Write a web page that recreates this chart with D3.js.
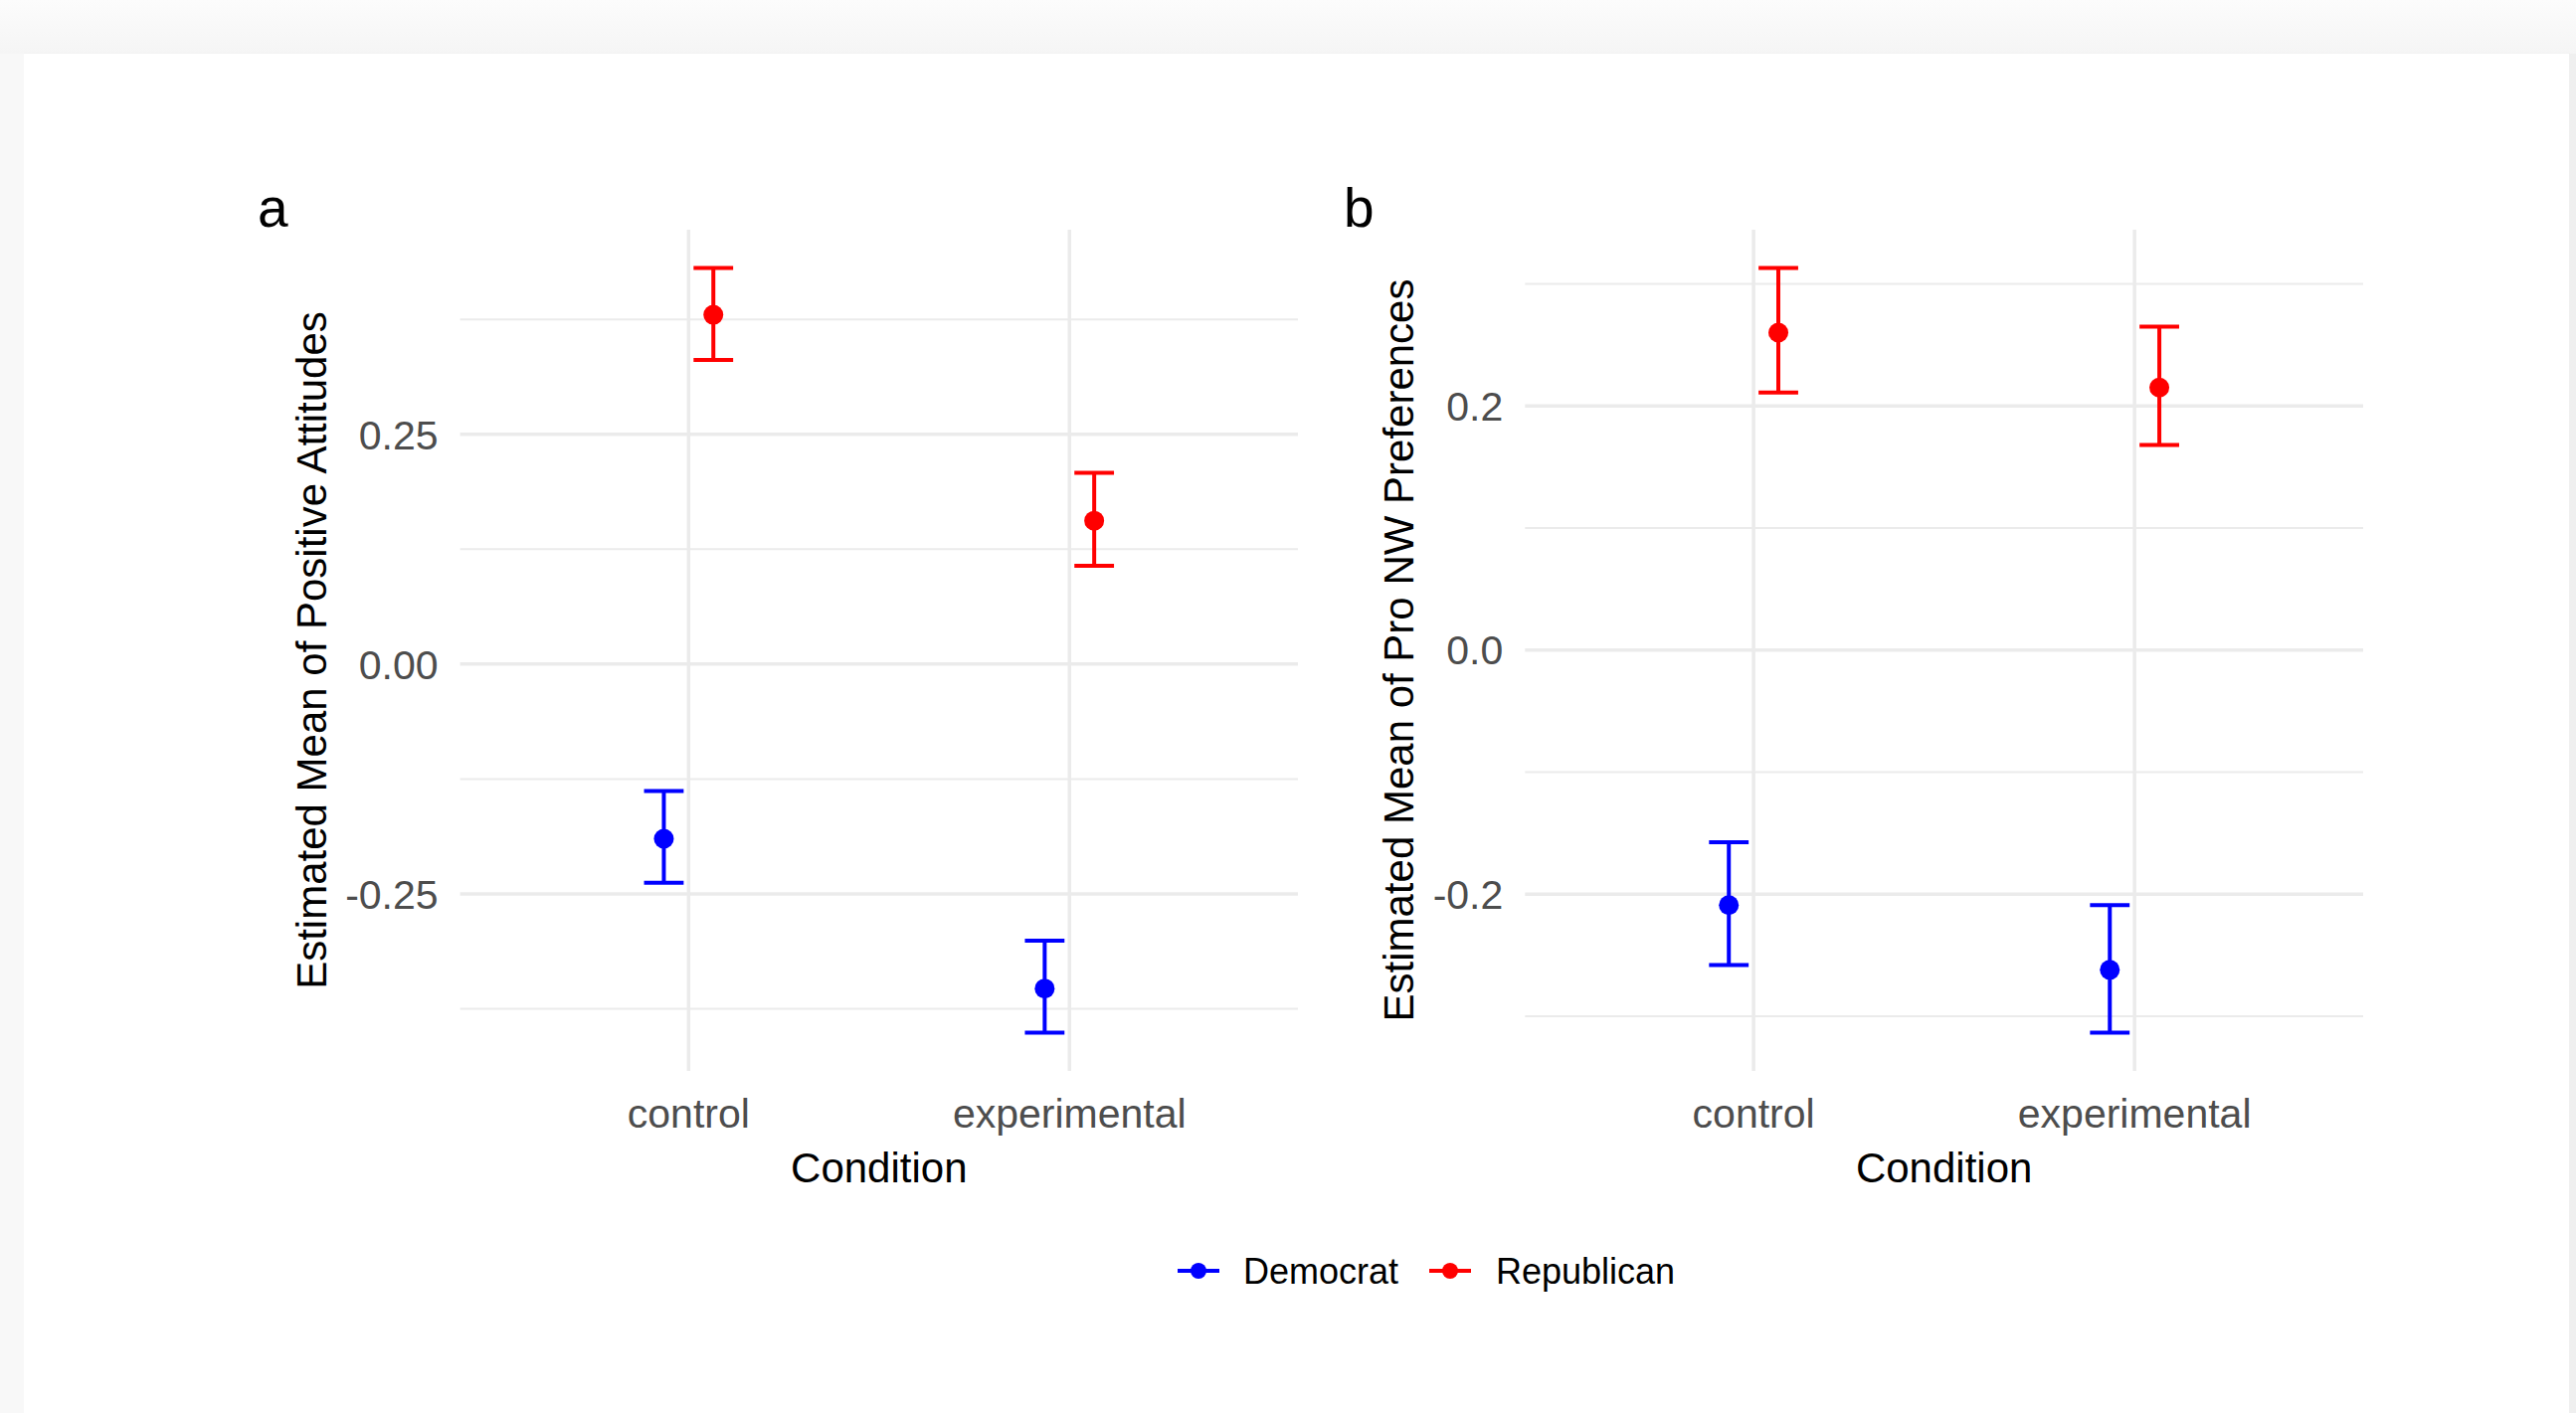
<!DOCTYPE html>
<html>
<head>
<meta charset="utf-8">
<script src="https://cdn.jsdelivr.net/npm/d3@7"></script>
<style>
  html, body { margin: 0; padding: 0; background: #f7f7f7; }
  svg { display: block; }
  text { font-family: "Liberation Sans", Arial, sans-serif; }
</style>
</head>
<body>
<svg id="chart" width="2590" height="1421"></svg>
<script>
// ---------------- DATA ----------------
const categories = ["control", "experimental"];
const parties = ["Democrat", "Republican"];
const partyColors = ["#0000ff", "#ff0000"];

// Panel a: Estimated Mean of Positive Attitudes
const aDemMean = [-0.190, -0.353];
const aDemLo   = [-0.238, -0.401];
const aDemHi   = [-0.138, -0.301];
const aRepMean = [0.380, 0.156];
const aRepLo   = [0.331, 0.107];
const aRepHi   = [0.431, 0.208];

// Panel b: Estimated Mean of Pro NW Preferences
const bDemMean = [-0.209, -0.262];
const bDemLo   = [-0.258, -0.3135];
const bDemHi   = [-0.1575, -0.209];
const bRepMean = [0.260, 0.215];
const bRepLo   = [0.211, 0.168];
const bRepHi   = [0.313, 0.265];

const aMajorTicks = [-0.25, 0, 0.25];
const aTickLabels = ["-0.25", "0.00", "0.25"];
const aMinorTicks = [-0.375, -0.125, 0.125, 0.375];
const bMajorTicks = [-0.2, 0, 0.2];
const bTickLabels = ["-0.2", "0.0", "0.2"];
const bMinorTicks = [-0.3, -0.1, 0.1, 0.3];

const aTitle = "Estimated Mean of Positive Attitudes";
const bTitle = "Estimated Mean of Pro NW Preferences";
const xTitle = "Condition";

// ---------------- DRAW ----------------
const svg = d3.select("#chart");
const W = 2590, H = 1421;

// page frame
const defs = svg.append("defs");
const g1 = defs.append("linearGradient").attr("id", "topband").attr("x1", 0).attr("y1", 0).attr("x2", 0).attr("y2", 1);
g1.append("stop").attr("offset", "0%").attr("stop-color", "#fcfcfc");
g1.append("stop").attr("offset", "100%").attr("stop-color", "#f5f5f5");
svg.append("rect").attr("x", 0).attr("y", 0).attr("width", W).attr("height", H).attr("fill", "#f8f8f8");
svg.append("rect").attr("x", 0).attr("y", 0).attr("width", W).attr("height", 54).attr("fill", "url(#topband)");
svg.append("rect").attr("x", 2583).attr("y", 54).attr("width", 7).attr("height", H - 54).attr("fill", "#efefef");
svg.append("rect").attr("x", 24).attr("y", 53).attr("width", 2560).attr("height", 1).attr("fill", "#f2f2f2");
svg.append("rect").attr("x", 24).attr("y", 54).attr("width", 2559).attr("height", H - 54).attr("fill", "#ffffff");

const panelTop = 231, panelBottom = 1077;
const dodgeWidth = 0.26, capWidth = 0.104;
const gridColor = "#ebebeb";

function expandDomain(lo, hi) {
  const mn = d3.min(lo), mx = d3.max(hi);
  const pad = (mx - mn) * 0.05;
  return [mn - pad, mx + pad];
}

function drawPanel(cfg) {
  const x = d3.scalePoint().domain(categories).range([cfg.left, cfg.right]).padding(0.6);
  const step = x.step();
  const allLo = cfg.series.flatMap(s => s.lo);
  const allHi = cfg.series.flatMap(s => s.hi);
  const y = d3.scaleLinear().domain(expandDomain(allLo, allHi)).range([panelBottom, panelTop]);
  const g = svg.append("g");

  // minor grid
  g.selectAll(".minor").data(cfg.minor).enter().append("line")
    .attr("x1", cfg.left).attr("x2", cfg.right)
    .attr("y1", d => y(d)).attr("y2", d => y(d))
    .attr("stroke", gridColor).attr("stroke-width", 2);
  // major grid
  g.selectAll(".major").data(cfg.major).enter().append("line")
    .attr("x1", cfg.left).attr("x2", cfg.right)
    .attr("y1", d => y(d)).attr("y2", d => y(d))
    .attr("stroke", gridColor).attr("stroke-width", 3.5);
  // vertical grid
  g.selectAll(".vgrid").data(categories).enter().append("line")
    .attr("x1", d => x(d)).attr("x2", d => x(d))
    .attr("y1", panelTop).attr("y2", panelBottom)
    .attr("stroke", gridColor).attr("stroke-width", 3.5);

  // y tick labels
  g.selectAll(".ylab").data(cfg.major).enter().append("text")
    .attr("x", cfg.left - 22).attr("y", d => y(d)).attr("dy", "0.36em")
    .attr("text-anchor", "end").attr("font-size", 41).attr("fill", "#4d4d4d")
    .text((d, i) => cfg.labels[i]);
  // x tick labels
  g.selectAll(".xlab").data(categories).enter().append("text")
    .attr("x", d => x(d)).attr("y", 1134)
    .attr("text-anchor", "middle").attr("font-size", 41).attr("fill", "#4d4d4d")
    .text(d => d);
  // x title
  g.append("text").attr("x", (cfg.left + cfg.right) / 2).attr("y", 1189)
    .attr("text-anchor", "middle").attr("font-size", 42).attr("fill", "#000")
    .text(xTitle);
  // y title
  g.append("text")
    .attr("transform", `translate(${cfg.titleX},${(panelTop + panelBottom) / 2}) rotate(-90)`)
    .attr("text-anchor", "middle").attr("font-size", 42).attr("fill", "#000")
    .text(cfg.title);
  // tag
  g.append("text").attr("x", cfg.tagX).attr("y", 228)
    .attr("font-size", 55).attr("fill", "#000").text(cfg.tag);

  // series
  cfg.series.forEach((s, si) => {
    const off = (si === 0 ? -1 : 1) * dodgeWidth / 4 * step;
    const color = partyColors[si];
    const sg = g.append("g");
    const pts = categories.map((c, i) => ({ c, m: s.mean[i], lo: s.lo[i], hi: s.hi[i] }));
    sg.selectAll(".stem").data(pts).enter().append("line")
      .attr("x1", d => x(d.c) + off).attr("x2", d => x(d.c) + off)
      .attr("y1", d => y(d.lo)).attr("y2", d => y(d.hi))
      .attr("stroke", color).attr("stroke-width", 4);
    sg.selectAll(".capT").data(pts).enter().append("line")
      .attr("x1", d => x(d.c) + off - capWidth / 2 * step).attr("x2", d => x(d.c) + off + capWidth / 2 * step)
      .attr("y1", d => y(d.hi)).attr("y2", d => y(d.hi))
      .attr("stroke", color).attr("stroke-width", 4);
    sg.selectAll(".capB").data(pts).enter().append("line")
      .attr("x1", d => x(d.c) + off - capWidth / 2 * step).attr("x2", d => x(d.c) + off + capWidth / 2 * step)
      .attr("y1", d => y(d.lo)).attr("y2", d => y(d.lo))
      .attr("stroke", color).attr("stroke-width", 4);
    sg.selectAll(".pt").data(pts).enter().append("circle")
      .attr("cx", d => x(d.c) + off).attr("cy", d => y(d.m)).attr("r", 10)
      .attr("fill", color);
  });
}

drawPanel({
  left: 462.6, right: 1305, title: aTitle, titleX: 328, tag: "a", tagX: 259,
  major: aMajorTicks, labels: aTickLabels, minor: aMinorTicks,
  series: [
    { mean: aDemMean, lo: aDemLo, hi: aDemHi },
    { mean: aRepMean, lo: aRepLo, hi: aRepHi }
  ]
});
drawPanel({
  left: 1533.3, right: 2376, title: bTitle, titleX: 1421, tag: "b", tagX: 1351,
  major: bMajorTicks, labels: bTickLabels, minor: bMinorTicks,
  series: [
    { mean: bDemMean, lo: bDemLo, hi: bDemHi },
    { mean: bRepMean, lo: bRepLo, hi: bRepHi }
  ]
});

// legend
const legendY = 1278;
const legendKeys = [1205, 1458];
const legendTextX = [1250, 1504];
const lg = svg.append("g");
parties.forEach((p, i) => {
  lg.append("line").attr("x1", legendKeys[i] - 21).attr("x2", legendKeys[i] + 21)
    .attr("y1", legendY).attr("y2", legendY).attr("stroke", partyColors[i]).attr("stroke-width", 4);
  lg.append("circle").attr("cx", legendKeys[i]).attr("cy", legendY).attr("r", 8).attr("fill", partyColors[i]);
  lg.append("text").attr("x", legendTextX[i]).attr("y", legendY).attr("dy", "0.36em")
    .attr("font-size", 36).attr("fill", "#000").text(p);
});
</script>
</body>
</html>
